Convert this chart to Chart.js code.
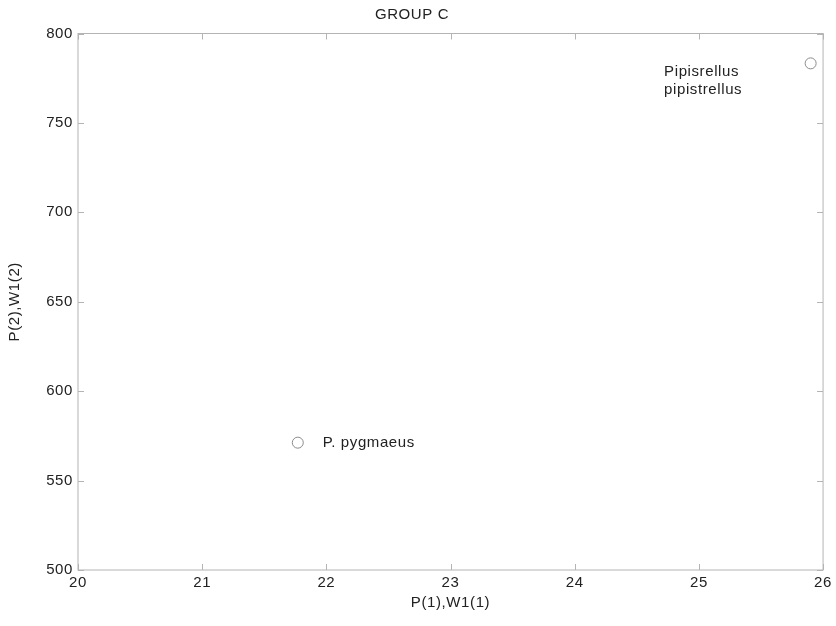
<!DOCTYPE html>
<html>
<head>
<meta charset="utf-8">
<script src="https://cdn.jsdelivr.net/npm/chart.js@4.4.0/dist/chart.umd.min.js"></script>
<style>
  html, body { margin: 0; padding: 0; background: #fff; }
  #wrap { width: 836px; height: 626px; }
</style>
</head>
<body>
<div id="wrap"><canvas id="chart"></canvas></div>
<script>
// ── Data ─────────────────────────────────────────────
const xValues = [21.77, 25.90];
const yValues = [571.2, 783.3];
const pointNames = ['P. pygmaeus', 'Pipisrellus pipistrellus'];

// text annotations (data units, like matlab text())
const labelLines = [['P. pygmaeus'], ['Pipisrellus', 'pipistrellus']];
const labelX = [21.97, 24.72];
const labelY = [571.2, 773.4];

const xTicks = [20, 21, 22, 23, 24, 25, 26];
const yTicks = [500, 550, 600, 650, 700, 750, 800];

const FONT = 'Liberation Sans, Arial, Helvetica, sans-serif';
const FSIZE = 15;
const axisGray = '#b4b4b4';
const textCol = '#222';

// text in the reference is a bit wider than plain arial
const spacingPlugin = {
  id: 'spacing',
  beforeLayout(chart) { chart.ctx.letterSpacing = '0.6px'; },
  beforeDraw(chart) { chart.ctx.letterSpacing = '0.6px'; }
};

// box + inward ticks, matlab style
const boxPlugin = {
  id: 'box',
  afterDraw(chart) {
    const { ctx, chartArea: a, scales: { x, y } } = chart;
    const tl = 6;
    ctx.save();
    ctx.strokeStyle = axisGray;
    ctx.lineWidth = 1;
    ctx.strokeRect(a.left, a.top, a.right - a.left, a.bottom - a.top);
    ctx.beginPath();
    xTicks.forEach(v => {
      const px = Math.round(x.getPixelForValue(v)) + 0.5;
      ctx.moveTo(px, a.bottom); ctx.lineTo(px, a.bottom - tl);
      ctx.moveTo(px, a.top); ctx.lineTo(px, a.top + tl);
    });
    yTicks.forEach(v => {
      const py = Math.round(y.getPixelForValue(v)) + 0.5;
      ctx.moveTo(a.left, py); ctx.lineTo(a.left + tl, py);
      ctx.moveTo(a.right, py); ctx.lineTo(a.right - tl, py);
    });
    ctx.stroke();
    ctx.restore();
  }
};

const labelPlugin = {
  id: 'pointLabels',
  afterDatasetsDraw(chart) {
    const { ctx, scales: { x, y } } = chart;
    ctx.save();
    ctx.font = FSIZE + 'px ' + FONT;
    ctx.fillStyle = textCol;
    ctx.textAlign = 'left';
    ctx.textBaseline = 'middle';
    labelLines.forEach((lines, i) => {
      const px = x.getPixelForValue(labelX[i]);
      const py = y.getPixelForValue(labelY[i]);
      const lh = 18;
      const y0 = py - (lines.length - 1) * lh / 2;
      lines.forEach((t, j) => ctx.fillText(t, px, y0 + j * lh));
    });
    ctx.restore();
  }
};

new Chart(document.getElementById('chart'), {
  type: 'scatter',
  data: {
    datasets: [{
      label: 'GROUP C',
      data: xValues.map((v, i) => ({ x: v, y: yValues[i], name: pointNames[i] })),
      pointStyle: 'circle',
      pointRadius: 5.5,
      pointBorderWidth: 1,
      pointBorderColor: '#8a8a8a',
      pointBackgroundColor: '#fff',
    }]
  },
  options: {
    responsive: true,
    maintainAspectRatio: false,
    animation: false,
    layout: { padding: { left: 0, right: 12, top: 0, bottom: 0 } },
    plugins: {
      legend: { display: false },
      tooltip: { enabled: false },
      title: {
        display: true,
        text: 'GROUP C',
        color: textCol,
        font: { family: FONT, size: FSIZE, weight: 'normal' },
        padding: { top: 6, bottom: 9.5 }
      }
    },
    scales: {
      x: {
        type: 'linear', min: 20, max: 26,
        afterBuildTicks: s => { s.ticks = xTicks.map(v => ({ value: v })); },
        afterFit: s => { s.height = 56; },
        grid: { display: false, drawTicks: false },
        border: { display: false },
        ticks: { color: textCol, padding: 4, maxRotation: 0, font: { family: FONT, size: FSIZE } },
        title: {
          display: true, text: 'P(1),W1(1)', color: textCol,
          font: { family: FONT, size: FSIZE }, padding: { top: 0, bottom: 14 }
        }
      },
      y: {
        type: 'linear', min: 500, max: 800,
        afterBuildTicks: s => { s.ticks = yTicks.map(v => ({ value: v })); },
        afterFit: s => { s.width = 78; },
        grid: { display: false, drawTicks: false },
        border: { display: false },
        ticks: { color: textCol, padding: 5, font: { family: FONT, size: FSIZE } },
        title: {
          display: true, text: 'P(2),W1(2)', color: textCol,
          font: { family: FONT, size: FSIZE }, padding: { top: 6, bottom: 0 }
        }
      }
    }
  },
  plugins: [spacingPlugin, boxPlugin, labelPlugin]
});
</script>
</body>
</html>
